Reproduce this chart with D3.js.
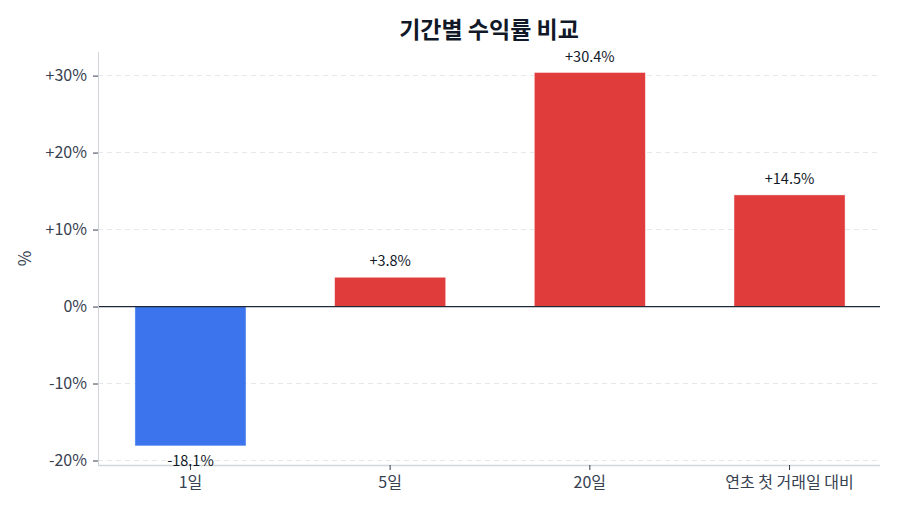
<!DOCTYPE html>
<html><head><meta charset="utf-8">
<script src="https://cdn.jsdelivr.net/npm/d3@7"></script>
<style>
html,body{margin:0;padding:0;background:#fff;}
text{font-family:"Noto Sans CJK KR","Noto Sans",sans-serif;}
</style></head>
<body><svg id="c" width="900" height="514"></svg>
<script>
const categories = ["1일", "5일", "20일", "연초 첫 거래일 대비"];
const values = [-18.1, 3.8, 30.4, 14.5];
const yTicks = [-20, -10, 0, 10, 20, 30];
const yDomain = [-20.65, 33];
const title = "기간별 수익률 비교";

const svg = d3.select("#c");
const L = 98, R = 880, T = 52, B = 465;
const x = d3.scaleBand().domain(categories).range([L + 1, R + 1]).paddingInner(0.444).paddingOuter(0.18);
const y = d3.scaleLinear().domain(yDomain).range([B + 0.5, T + 0.5]);
const fmt = v => (v > 0 ? "+" : "") + v + "%";

// grid
svg.append("g").selectAll("line").data(yTicks.filter(t => t !== 0)).join("line")
  .attr("x1", L).attr("x2", R).attr("y1", d => y(d)).attr("y2", d => y(d))
  .attr("stroke", "#e5e7eb").attr("stroke-dasharray", "5,4").attr("stroke-width", 1);

// bars
svg.append("g").selectAll("rect").data(values).join("rect")
  .attr("x", (d, i) => x(categories[i]))
  .attr("width", x.bandwidth())
  .attr("y", d => y(Math.max(0, d)))
  .attr("height", d => Math.abs(y(d) - y(0)))
  .attr("fill", d => d >= 0 ? "#e03c3c" : "#3b74ec")
  .attr("stroke", "rgba(255,255,255,0.5)").attr("stroke-width", 0.8);

// zero line
svg.append("line").attr("x1", L).attr("x2", R).attr("y1", y(0)).attr("y2", y(0))
  .attr("stroke", "#1f2937").attr("stroke-width", 1.3);

// axes
const yAxis = svg.append("g").attr("transform", `translate(${L},0)`)
  .call(d3.axisLeft(y).tickValues(yTicks).tickFormat(d => d > 0 ? "+" + d + "%" : d + "%").tickSize(5).tickPadding(6));
yAxis.select(".domain").attr("stroke", "#d1d5db").attr("d", `M0.5,${T}V${B}`);
yAxis.selectAll(".tick line").attr("stroke", "#374151");
yAxis.selectAll(".tick text").attr("fill", "#374151").style("font-size", "16px");

const xAxis = svg.append("g").attr("transform", `translate(0,${B})`)
  .call(d3.axisBottom(x).tickSize(5).tickPadding(7));
xAxis.select(".domain").attr("stroke", "#d1d5db").attr("stroke-width", 1.5).attr("d", `M${L},0.5H${R}`);
xAxis.selectAll(".tick line").attr("stroke", "#374151");
xAxis.selectAll(".tick text").attr("fill", "#374151").style("font-size", "16px");

// value labels
svg.append("g").selectAll("text").data(values).join("text")
  .attr("x", (d, i) => x(categories[i]) + x.bandwidth() / 2)
  .attr("y", d => d >= 0 ? y(d) - 11 : y(d) + 20)
  .attr("text-anchor", "middle").attr("fill", "#111827").style("font-size", "14.5px")
  .text(fmt);

// y label
svg.append("text").attr("transform", `translate(31,${(T + B) / 2}) rotate(-90)`)
  .attr("text-anchor", "middle").attr("fill", "#374151").style("font-size", "17px").text("%");

// title
svg.append("text").attr("x", 489).attr("y", 38).attr("text-anchor", "middle")
  .attr("fill", "#111827").style("font-size", "23px").style("font-weight", "bold").text(title);
</script></body></html>
